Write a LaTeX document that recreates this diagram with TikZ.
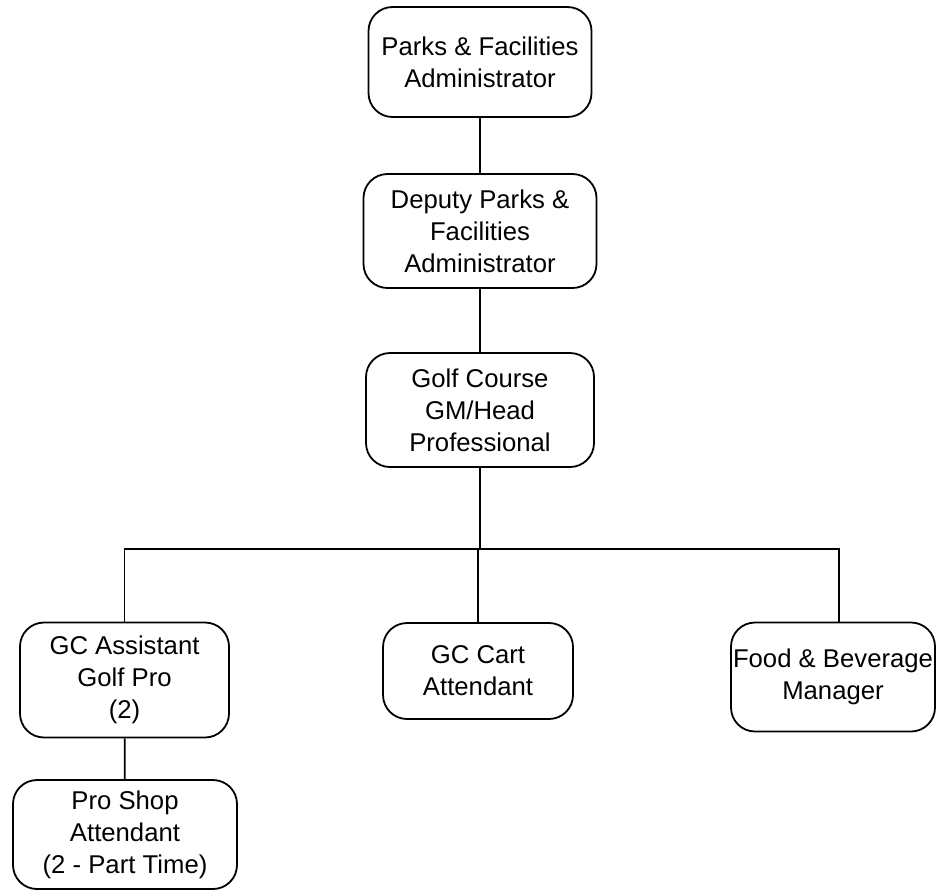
\documentclass[tikz,border=0pt]{standalone}
\usepackage{fontspec}
\setmainfont{Liberation Sans}
\usetikzlibrary{positioning}

\begin{document}
\begin{tikzpicture}[
  x=1pt, y=1pt,
  box/.style={draw, rounded corners=12pt, line width=0.9pt, inner sep=0pt, align=center,
    font=\fontsize{12.85}{16}\selectfont},
  conn/.style={line width=0.9pt}
]
\useasboundingbox (0,0) rectangle (468,-445.5);

\node[box, minimum width=111.5pt, minimum height=55pt] (admin) at (240,-31) {Parks \& Facilities\\Administrator};
\node[box, minimum width=116.5pt, minimum height=57pt] (deputy) at (240,-115.5) {Deputy Parks \&\\Facilities\\Administrator};
\node[box, minimum width=114pt, minimum height=57pt] (gm) at (240,-205) {Golf Course\\GM/Head\\Professional};
\coordinate (bus) at (239.5,-274.5);
\node[box, minimum width=104.5pt, minimum height=57.5pt] (asst) at (62.25,-340) {GC Assistant\\Golf Pro\\(2)};
\node[box, minimum width=95pt, minimum height=48pt] (cart) at (239,-335.5) {GC Cart\\Attendant};
\node[box, minimum width=102pt, minimum height=54.5pt] (food) at (416.5,-338.5) {Food \& Beverage\\Manager};
\node[box, minimum width=112pt, minimum height=54.5pt] (shop) at (62.5,-417.25) {Pro Shop\\Attendant\\(2 - Part Time)};

\draw[conn] (admin) -- (deputy);
\draw[conn] (deputy) -- (gm);
\draw[conn] (gm) -- (gm.south |- bus);
\draw[conn] (bus) -| (asst.north);
\draw[conn] (bus) -| ([xshift=3pt]food.north);
\draw[conn] (cart.north) -- (cart.north |- bus);
\draw[conn] (asst) -- (shop);
\end{tikzpicture}
\end{document}
